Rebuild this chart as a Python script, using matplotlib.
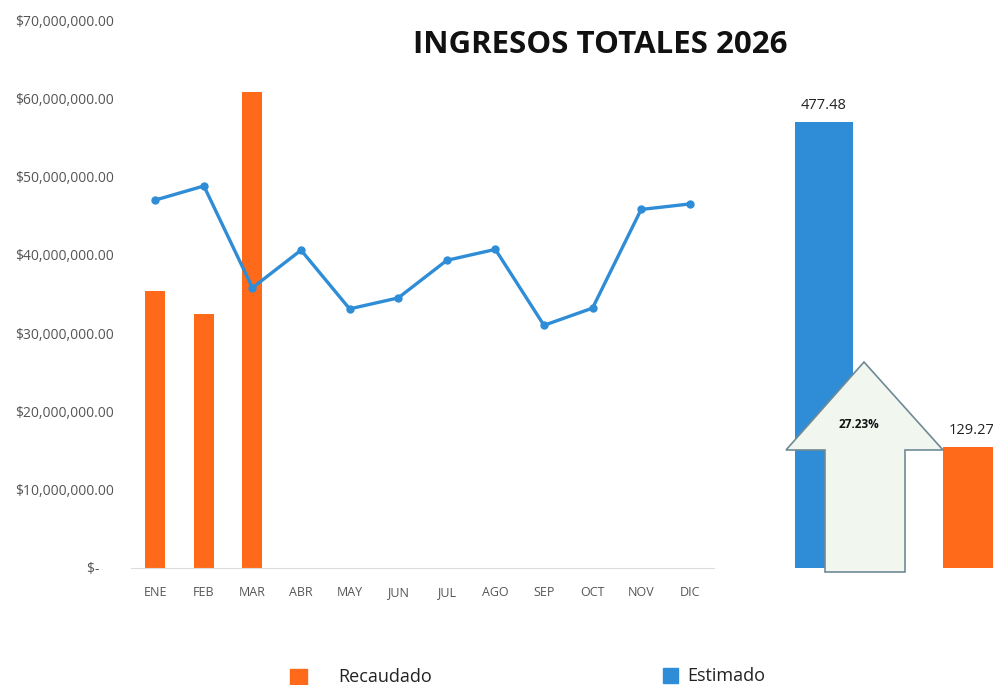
import matplotlib
matplotlib.use("Agg")
import matplotlib.pyplot as plt
from matplotlib.patches import Polygon, Rectangle
from matplotlib.ticker import FuncFormatter

plt.rcParams['font.family'] = ['Open Sans', 'DejaVu Sans']

months = ["ENE", "FEB", "MAR", "ABR", "MAY", "JUN", "JUL", "AGO", "SEP", "OCT", "NOV", "DIC"]
recaudado = [35.4e6, 32.4e6, 60.8e6]
estimado = [47.0e6, 48.8e6, 35.8e6, 40.6e6, 33.1e6, 34.5e6, 39.3e6, 40.7e6, 31.0e6, 33.2e6, 45.8e6, 46.5e6]
summary_labels = ["Estimado", "Recaudado"]
summary_values = [477.48, 129.27]
pct_text = "27.23%"
title = "INGRESOS TOTALES 2026"

ORANGE = "#FF6A1A"
BLUE = "#2E8DD6"
GRAY = "#555555"

W, H = 993, 685
fig = plt.figure(figsize=(W / 100, H / 100), dpi=100)

def fx(px):
    return px / W

def fy(py):
    return 1 - py / H

# main chart
ax = fig.add_axes([fx(131), fy(568), fx(714) - fx(131), fy(20) - fy(568)])
x = list(range(len(months)))
ax.bar(x[:len(recaudado)], recaudado, width=0.41, color=ORANGE, zorder=2)
ax.plot(x, estimado, color=BLUE, lw=2.4, marker="o", ms=5, zorder=3)
ax.set_xlim(-0.5, len(months) - 0.5)
ax.set_ylim(0, 70e6)
ax.set_yticks([i * 10e6 for i in range(8)])

def fmt(v, pos):
    if v == 0:
        return "$-    "
    return "${:,.2f}".format(v)

ax.yaxis.set_major_formatter(FuncFormatter(fmt))
ax.set_xticks(x)
ax.set_xticklabels(months)
for s in ["top", "right", "left"]:
    ax.spines[s].set_visible(False)
ax.spines["bottom"].set_color("#dddddd")
ax.tick_params(axis="y", length=0, labelsize=10, labelcolor=GRAY, pad=12)
ax.tick_params(axis="x", length=0, labelsize=9, labelcolor=GRAY, pad=13)
ax.patch.set_alpha(0)

fig.text(fx(600), fy(45), title, ha="center", va="center", fontsize=22.5, fontweight="bold", color="#111111")

# summary chart
ax2 = fig.add_axes([fx(760), fy(568), 1 - fx(760), fy(20) - fy(568)])
top_blue = 122
ymax = summary_values[0] * (568 - 20) / (568 - top_blue)
ax2.bar([0, 1], summary_values, width=58 / 148, color=[BLUE, ORANGE], zorder=2)
ax2.set_xlim((760 - 824) / 148, (993 - 824) / 148)
ax2.set_ylim(0, ymax)
ax2.axis("off")
for i, v in enumerate(summary_values):
    ax2.text(i, v + ymax * 0.016, "{:.2f}".format(v), ha="center", va="bottom", fontsize=10.5, color="#222222", clip_on=False)

# arrow shape
pts_px = [(864, 362), (943, 450), (905, 450), (905, 572), (825, 572), (825, 450), (786, 450)]
arrow = Polygon([(fx(a), fy(b)) for a, b in pts_px], closed=True, transform=fig.transFigure,
                facecolor="#F1F6EF", edgecolor="#6F8A96", lw=1.2, zorder=5)
fig.patches.append(arrow)
fig.text(fx(859), fy(424), pct_text, ha="center", va="center", fontsize=8.5, fontweight="bold", color="#111111", zorder=6)

# legend
fig.patches.append(Rectangle((fx(290), fy(686)), fx(17), fy(669) - fy(686), transform=fig.transFigure, color=ORANGE))
fig.text(fx(338), fy(677), "Recaudado", ha="left", va="center", fontsize=13, color="#222222")
fig.patches.append(Rectangle((fx(663), fy(683)), fx(15), fy(668) - fy(683), transform=fig.transFigure, color=BLUE))
fig.text(fx(687), fy(676), "Estimado", ha="left", va="center", fontsize=13, color="#222222")

fig.savefig("out.png", dpi=100)
